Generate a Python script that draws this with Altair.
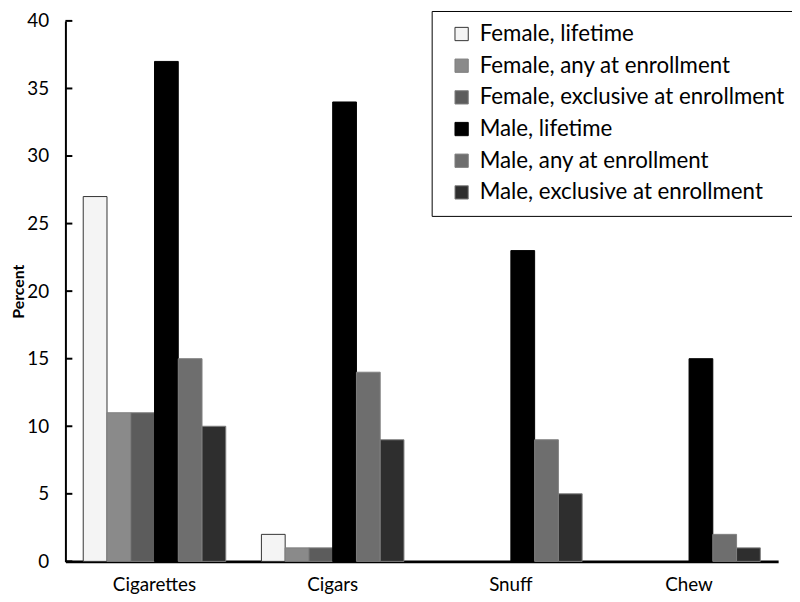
import altair as alt
import pandas as pd

categories = ["Cigarettes", "Cigars", "Snuff", "Chew"]
series = [
    "Female, lifetime",
    "Female, any at enrollment",
    "Female, exclusive at enrollment",
    "Male, lifetime",
    "Male, any at enrollment",
    "Male, exclusive at enrollment",
]
female_lifetime = [27, 2, 0, 0]
female_any = [11, 1, 0, 0]
female_exclusive = [11, 1, 0, 0]
male_lifetime = [37, 34, 23, 15]
male_any = [15, 14, 9, 2]
male_exclusive = [10, 9, 5, 1]
y_ticks = [0, 5, 10, 15, 20, 25, 30, 35, 40]

fill_colors = ["#f4f4f4", "#8a8a8a", "#5c5c5c", "#000000", "#6e6e6e", "#2e2e2e"]
stroke_colors = ["#333333", "#808080", "#808080", "#000000", "#808080", "#808080"]

values = [female_lifetime, female_any, female_exclusive, male_lifetime, male_any, male_exclusive]
rows = []
for s, vals in zip(series, values):
    for c, v in zip(categories, vals):
        rows.append({"category": c, "series": s, "value": v})
df = pd.DataFrame(rows)
ticks_df = pd.DataFrame({"tick": y_ticks})

FONT = "Lato"

y_scale = alt.Scale(domain=[0, 40], nice=False, zero=True)

bars = (
    alt.Chart(df)
    .transform_filter(alt.datum.value > 0)
    .mark_bar(strokeWidth=1)
    .encode(
        x=alt.X(
            "category:N",
            sort=categories,
            scale=alt.Scale(paddingInner=0.2, paddingOuter=0.1),
            axis=alt.Axis(
                title=None,
                labelAngle=0,
                labelFont=FONT,
                labelFontSize=19,
                labelColor="#000000",
                labelPadding=14,
                ticks=False,
                domainColor="#000000",
                domainWidth=3,
            ),
        ),
        xOffset=alt.XOffset("series:N", sort=series, scale=alt.Scale(paddingInner=0, paddingOuter=0)),
        y=alt.Y(
            "value:Q",
            scale=y_scale,
            axis=alt.Axis(
                title="Percent",
                titleFont=FONT,
                titleFontSize=16,
                titleFontWeight="bold",
                titleColor="#000000",
                titlePadding=0,
                values=y_ticks,
                labelFont=FONT,
                labelFontSize=19,
                labelColor="#000000",
                labelPadding=17,
                ticks=False,
                grid=False,
                domainColor="#000000",
                domainWidth=2,
            ),
        ),
        fill=alt.Fill(
            "series:N",
            sort=series,
            scale=alt.Scale(domain=series, range=fill_colors),
            legend=alt.Legend(
                title=None,
                orient="none",
                legendX=370,
                legendY=-10,
                direction="vertical",
                labelFont=FONT,
                labelFontSize=22.5,
                labelColor="#000000",
                labelLimit=0,
                labelOffset=7,
                symbolType="square",
                symbolSize=180,
                symbolStrokeColor="#606060",
                symbolStrokeWidth=1,
                symbolOffset=7,
                rowPadding=9,
                padding=12,
                strokeColor="#000000",
                fillColor="#ffffff",
            ),
        ),
        stroke=alt.Stroke(
            "series:N",
            sort=series,
            scale=alt.Scale(domain=series, range=stroke_colors),
            legend=None,
        ),
    )
)

tick_marks = (
    alt.Chart(ticks_df)
    .mark_rule(color="#000000", strokeWidth=2)
    .encode(
        y=alt.Y("tick:Q", scale=y_scale),
        x=alt.value(0),
        x2=alt.value(7),
    )
)

chart = (
    alt.layer(bars, tick_marks)
    .properties(
        width=720,
        height=546,
        autosize=alt.AutoSizeParams(type="none"),
        padding={"left": 58, "top": 10, "right": 14, "bottom": 38},
    )
    .configure_view(stroke=None)
)

chart.save("out.html", embed_options={"renderer": "svg", "actions": False})
